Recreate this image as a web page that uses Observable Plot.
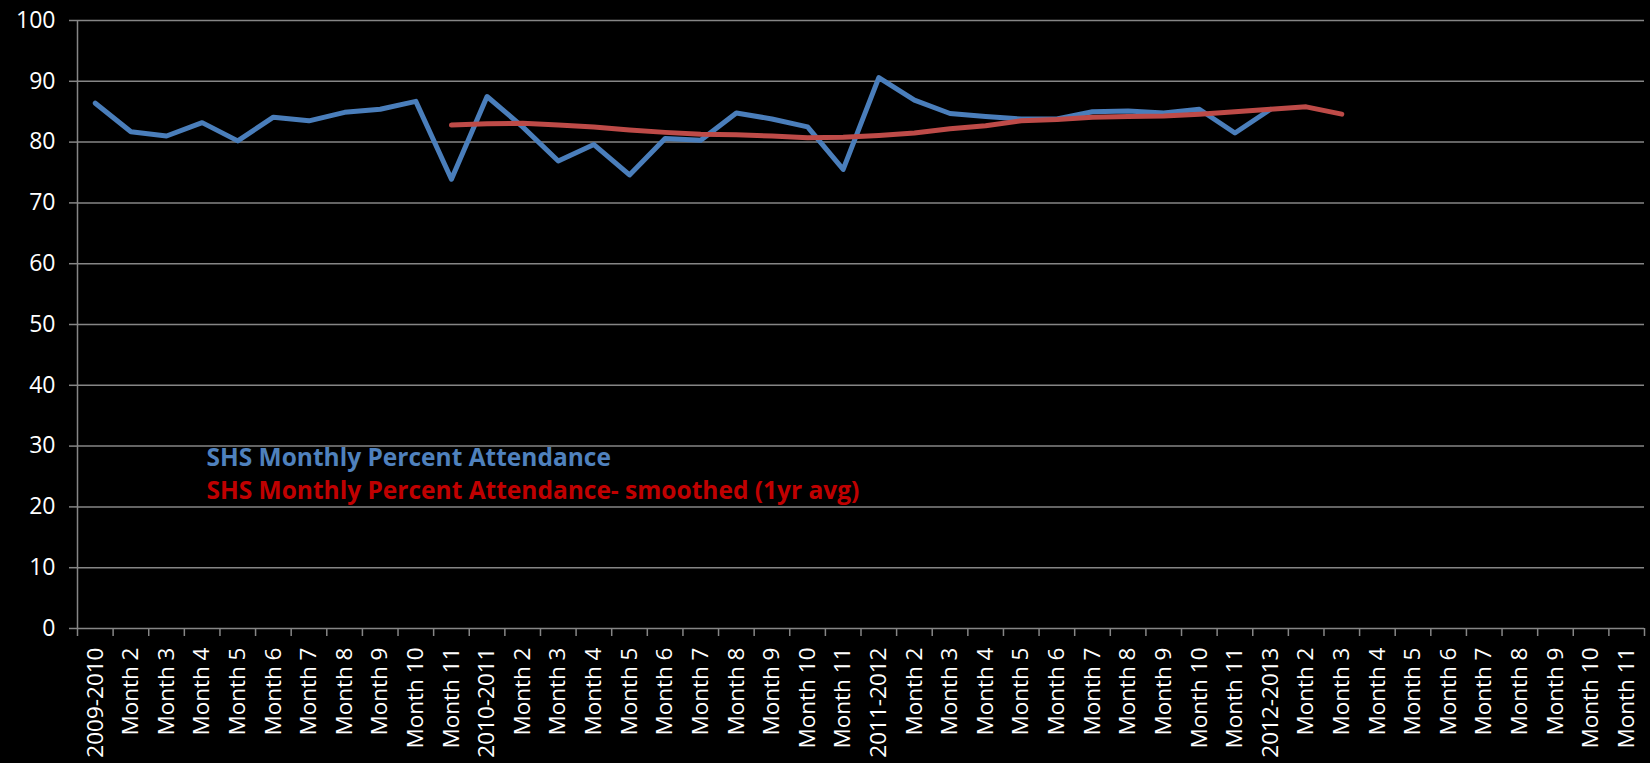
<!DOCTYPE html>
<html>
<head>
<meta charset="utf-8">
<script src="https://cdn.jsdelivr.net/npm/d3@7"></script>
<script src="https://cdn.jsdelivr.net/npm/@observablehq/plot@0.6"></script>
<style>
  html, body { margin: 0; padding: 0; background: #000; width: 1650px; height: 763px; overflow: hidden; }
  #chart { width: 1650px; height: 763px; overflow: hidden; }
  #chart svg { display: block; }
</style>
</head>
<body>
<div id="chart"></div>
<script>
// Category (tick) labels along the x axis
const categories = [
  "2009-2010", "Month 2", "Month 3", "Month 4", "Month 5", "Month 6", "Month 7", "Month 8", "Month 9", "Month 10", "Month 11",
  "2010-2011", "Month 2", "Month 3", "Month 4", "Month 5", "Month 6", "Month 7", "Month 8", "Month 9", "Month 10", "Month 11",
  "2011-2012", "Month 2", "Month 3", "Month 4", "Month 5", "Month 6", "Month 7", "Month 8", "Month 9", "Month 10", "Month 11",
  "2012-2013", "Month 2", "Month 3", "Month 4", "Month 5", "Month 6", "Month 7", "Month 8", "Month 9", "Month 10", "Month 11"
];

// SHS Monthly Percent Attendance
const attendance = [
  86.4, 81.7, 81.0, 83.2, 80.2, 84.1, 83.5, 84.9, 85.4, 86.7, 73.9,
  87.5, 82.5, 76.9, 79.6, 74.6, 80.6, 80.3, 84.8, 83.8, 82.5, 75.5,
  90.6, 86.9, 84.7, 84.2, 83.8, 83.8, 85.0, 85.1, 84.8, 85.4, 81.5,
  85.4
];

// SHS Monthly Percent Attendance - smoothed (1yr avg)
const smoothed = [
  null, null, null, null, null, null, null, null, null, null, 82.8,
  83.0, 83.1, 82.8, 82.5, 82.0, 81.6, 81.3, 81.2, 81.0, 80.7, 80.8,
  81.1, 81.5, 82.2, 82.7, 83.5, 83.7, 84.1, 84.2, 84.3, 84.6, 85.0,
  85.4, 85.8, 84.6
];

// Y tick values
const yTicks = [0, 10, 20, 30, 40, 50, 60, 70, 80, 90, 100];

const seriesNames = [
  "SHS Monthly Percent Attendance",
  "SHS Monthly Percent Attendance- smoothed (1yr avg)"
];

const rows = categories.map((label, i) => ({
  i,
  label,
  blue: attendance[i] ?? null,
  red: smoothed[i] ?? null
}));
const centers = d3.range(categories.length);
const boundaries = d3.range(categories.length + 1).map(k => k - 0.5);

const gridColor = "#868686";

const chart = Plot.plot({
  width: 1650,
  height: 763,
  marginLeft: 77,
  marginRight: 6,
  marginTop: 20,
  marginBottom: 135,
  style: { background: "#000", color: "#fff", overflow: "hidden" },
  x: { domain: [-0.5, categories.length - 0.5], label: null },
  y: { domain: [0, 100], label: null },
  marks: [
    Plot.ruleY(yTicks, { stroke: gridColor, strokeWidth: 1.5 }),
    Plot.ruleX([-0.5], { y1: 0, y2: 100, stroke: gridColor, strokeWidth: 1.5 }),
    // category boundary ticks below the x axis
    Plot.ruleX(boundaries, {
      x: d => d, y1: 0, y2: 0, insetBottom: -8,
      stroke: gridColor, strokeWidth: 1.5
    }),
    Plot.axisY({
      ticks: yTicks, tickSize: 8, tickPadding: 14, label: null,
      stroke: gridColor, strokeWidth: 1.5, fill: "#fff",
      fontSize: 23, fontFamily: "Open Sans"
    }),
    Plot.axisX({
      ticks: centers, tickSize: 0, tickPadding: 19, tickRotate: -90, label: null,
      textAnchor: "end", lineAnchor: "middle",
      tickFormat: i => categories[i],
      fill: "#fff", fontSize: 22.5, fontFamily: "Open Sans"
    }),
    Plot.line(rows, {
      x: "i", y: "blue", stroke: "#4A7EBB", strokeWidth: 5,
      strokeLinejoin: "round", strokeLinecap: "round"
    }),
    Plot.line(rows, {
      x: "i", y: "red", stroke: "#BE4B48", strokeWidth: 5,
      strokeLinejoin: "round", strokeLinecap: "round"
    }),
    Plot.text([seriesNames[0]], {
      text: d => d, frameAnchor: "top-left", dx: 129, dy: 427.6,
      textAnchor: "start", lineAnchor: "top", fill: "#4F81BD",
      fontSize: 24.5, fontWeight: "bold", fontFamily: "Open Sans"
    }),
    Plot.text([seriesNames[1]], {
      text: d => d, frameAnchor: "top-left", dx: 129, dy: 461.5,
      textAnchor: "start", lineAnchor: "top", fill: "#C00000",
      fontSize: 24.5, fontWeight: "bold", fontFamily: "Open Sans"
    })
  ]
});

document.getElementById("chart").appendChild(chart);
</script>
</body>
</html>
